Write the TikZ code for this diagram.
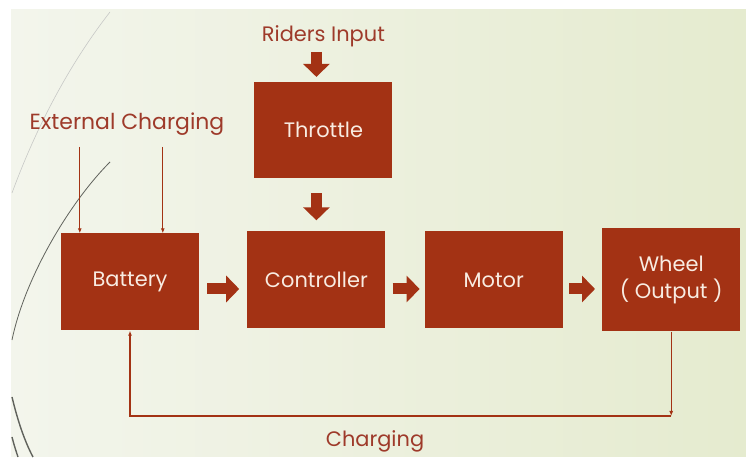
\documentclass[tikz,border=0pt]{standalone}
\usepackage{fontspec}
\setmainfont{Poppins}
\usetikzlibrary{positioning,arrows.meta}
\definecolor{rust}{RGB}{163,50,20}
\definecolor{rustink}{RGB}{158,58,42}
\definecolor{paper}{RGB}{248,236,226}
\definecolor{bgleft}{RGB}{243,245,236}
\definecolor{bgmid}{RGB}{250,250,245}
\definecolor{bgright}{RGB}{229,235,207}
\definecolor{facet}{RGB}{96,98,92}
\def\dx{39bp}
\def\dy{53bp}
\tikzstyle{block}=[fill=rust,text=paper,minimum width=138bp,minimum height=97bp,inner sep=0pt,align=center,font=\fontsize{21}{28}\selectfont]
\tikzstyle{redtext}=[text=rustink,inner sep=2bp,font=\fontsize{21}{25}\selectfont]
\tikzstyle{flow}=[rust,line width=11bp,-{Triangle[width=26bp,length=13bp]},shorten <=8bp,shorten >=8bp]
\tikzstyle{feed}=[rust,line width=1.1bp,-{Latex[length=5bp,width=4bp]}]
\newcommand{\newBlock}[4]{\node[block,#3](#1)[#4]{#2};}
\newcommand{\newFlow}[3]{\draw[flow,#3] (#1) -- (#2);}

\begin{document}
\begin{tikzpicture}[x=1bp,y=1bp,node distance=\dy and \dx]
    % slide
    \fill[white] (0,0) rectangle (746,457);
    \shade[left color=bgleft,middle color=bgmid,right color=bgright] (11,0) rectangle (746,447);
    \draw[facet!35,line width=0.6bp] (12,264) .. controls (40,340) and (75,400) .. (110,445);
    \draw[facet,line width=0.8bp] (110,295) .. controls (70,255) and (25,180) .. (12,117);
    \draw[facet,line width=1.4bp] (12,60) .. controls (18,35) and (25,15) .. (33,0);
    \draw[facet,line width=1.4bp] (12,20) .. controls (14,12) and (16,6) .. (18,0);
    % blocks
    \newBlock{battery}{Battery}{}{at={(130,175)}}
    \newBlock{controller}{Controller}{yshift=2bp}{right=48bp of battery}
    \newBlock{motor}{Motor}{}{right=of controller}
    \newBlock{wheel}{Wheel\\( Output )}{minimum height=103bp}{right=of motor}
    \newBlock{throttle}{Throttle}{xshift=7bp,minimum height=96bp}{above=of controller}
    \node[redtext](rider)[above=33bp of throttle]{Riders Input};
    \node[redtext,font=\fontsize{22}{25}\selectfont](extcharge) at (127,333) {External Charging};
    \node[redtext](charging) at (375,16) {Charging};
    \coordinate (loop) at (0,41);
    % flows
    \newFlow{rider.south -| controller}{throttle.north -| controller}{shorten <=3bp,shorten >=5bp}
    \newFlow{throttle.south -| controller}{controller.north}{shorten <=15bp,shorten >=11bp}
    \newFlow{[yshift=-7bp]battery.east}{[yshift=-9bp]controller.west}{}
    \newFlow{[yshift=-9bp]controller.east}{[yshift=-9bp]motor.west}{shorten <=7bp,shorten >=5bp}
    \newFlow{[yshift=-9bp]motor.east}{[yshift=-9bp]wheel.west}{shorten <=6bp,shorten >=7bp}
    % charging lines
    \draw[feed] ([xshift=19bp]battery.north west |- 0,310) -- ([xshift=19bp]battery.north west);
    \draw[feed] ([xshift=102bp]battery.north west |- 0,310) -- ([xshift=102bp]battery.north west);
    \draw[feed] (wheel.south) -- (wheel.south |- loop);
    \draw[feed] (wheel.south |- loop) -- (battery.south |- loop) -- (battery.south);
\end{tikzpicture}
\end{document}
